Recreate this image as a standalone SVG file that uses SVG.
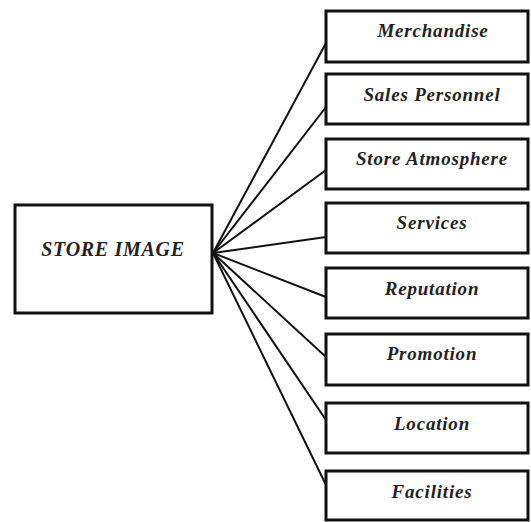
<svg xmlns="http://www.w3.org/2000/svg" width="531" height="522" viewBox="0 0 531 522">
<style>
.box{fill:#fff;stroke:#111;stroke-width:3}
.lbl{font-family:"Liberation Serif","Times New Roman",serif;font-weight:bold;font-style:italic;font-size:19px;letter-spacing:0.8px;fill:#222;text-anchor:middle}
.main{font-size:20px;letter-spacing:0.7px}
.con{stroke:#111;stroke-width:2;fill:none}
</style>
<rect width="531" height="522" fill="#fff"/>
<g id="connectors">
<line class="con" x1="213" y1="253" x2="326" y2="43"/>
<line class="con" x1="213" y1="253" x2="326" y2="107"/>
<line class="con" x1="213" y1="253" x2="326" y2="170"/>
<line class="con" x1="213" y1="253" x2="326" y2="237"/>
<line class="con" x1="213" y1="253" x2="326" y2="297"/>
<line class="con" x1="213" y1="253" x2="326" y2="357"/>
<line class="con" x1="213" y1="253" x2="326" y2="420"/>
<line class="con" x1="213" y1="253" x2="326" y2="485"/>
</g>
<g id="store-image"><rect class="box" x="15" y="205" width="197" height="108"/><text class="lbl main" x="113" y="256">STORE IMAGE</text></g>
<g id="merchandise"><rect class="box" x="326" y="11" width="202" height="51"/><text class="lbl" x="433" y="37">Merchandise</text></g>
<g id="sales-personnel"><rect class="box" x="326" y="74" width="202" height="50"/><text class="lbl" x="432" y="101">Sales Personnel</text></g>
<g id="store-atmosphere"><rect class="box" x="326" y="139" width="202" height="50"/><text class="lbl" x="432" y="165">Store Atmosphere</text></g>
<g id="services"><rect class="box" x="326" y="203" width="202" height="50"/><text class="lbl" x="432" y="229">Services</text></g>
<g id="reputation"><rect class="box" x="326" y="268" width="202" height="50"/><text class="lbl" x="432" y="295">Reputation</text></g>
<g id="promotion"><rect class="box" x="326" y="334" width="202" height="51"/><text class="lbl" x="432" y="360">Promotion</text></g>
<g id="location"><rect class="box" x="326" y="403" width="202" height="50"/><text class="lbl" x="432" y="430">Location</text></g>
<g id="facilities"><rect class="box" x="326" y="471" width="202" height="49"/><text class="lbl" x="432" y="498">Facilities</text></g>
</svg>
